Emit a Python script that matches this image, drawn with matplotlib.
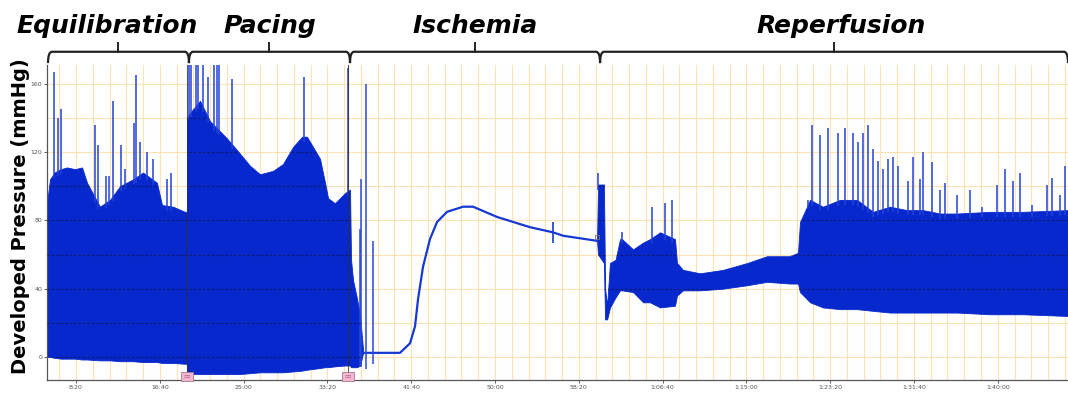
import numpy as np
import matplotlib
matplotlib.use("Agg")
import matplotlib.pyplot as plt
import matplotlib.transforms as mtransforms
from matplotlib.path import Path
from matplotlib.patches import PathPatch
from matplotlib.ticker import MultipleLocator, FuncFormatter

# time in seconds, pressure in mmHg
equil_t = [327, 345, 371, 410, 446, 494, 536, 566, 643, 703, 763, 840, 900, 983, 1013, 1079, 1150, 1162]
equil_hi = [90, 104, 108, 110, 111, 110, 111, 102, 88, 92, 100, 104, 108, 102, 89, 88, 85, 85]
equil_lo = [0, 0, -0.5, -1, -1, -1, -1.5, -1.5, -2, -2, -2.5, -2.5, -3, -3, -3.5, -3.5, -4, -4]

pace_t = [1162, 1180, 1198, 1240, 1300, 1401, 1479, 1538, 1598, 1676, 1735, 1795, 1849, 1878,
          1914, 1956, 1986, 2004, 2045, 2105, 2135, 2141, 2153, 2177, 2195, 2213]
pace_hi = [140, 143, 145, 150, 138, 128, 119, 112, 107, 109, 113, 123, 129, 129,
           123, 116, 102, 93, 90, 96, 98, 57, 45, 34, 24, 4]
pace_lo = [-9, -9.5, -10, -10, -10, -10, -10, -9.5, -9, -9, -9, -8.5, -8, -7.5,
           -7, -6.5, -6, -6, -5.5, -5, -5, -6, -6, -6, -5, 2.4]

isch_t = [2213, 2433, 2493, 2523, 2541, 2571, 2612, 2654, 2714, 2809, 2869, 3012, 3209, 3346, 3406, 3609]
isch_p = [2.4, 2.4, 8, 18, 34, 53, 69, 79, 85, 88, 88, 82, 76, 73, 71, 68]

rep_t = [3609, 3615, 3650, 3657, 3669, 3686, 3720, 3746, 3758, 3824, 3884, 3925, 3985, 4074, 4086,
         4122, 4223, 4361, 4504, 4623, 4760, 4808, 4820, 4880, 4957, 5059, 5160, 5256, 5357, 5459,
         5554, 5656, 5757, 5954, 6151, 6419]
rep_hi = [68, 101, 101, 40, 30, 55, 57, 69, 69, 63, 67, 69, 73, 69, 55,
          51, 49, 51, 55, 59, 59, 61, 79, 92, 88, 92, 92, 85, 88, 86,
          86, 84, 84, 85, 85, 86]
rep_lo = [68, 60, 55, 22, 22, 29, 35, 39, 39, 38, 32, 32, 29, 30, 36,
          39, 39, 40, 42, 44, 43, 43, 38, 32, 29, 28, 28, 27, 26, 26,
          26, 26, 26, 25, 25, 24]

# spikes rising above the envelope (175 = off scale)
spike_t = [371, 394, 410, 613, 633, 679, 699, 719, 767, 792, 846, 856, 882, 922, 961, 1041, 1065,
           1176, 1186, 1216, 1226, 1258, 1286, 1324, 1340, 1353, 1429, 1861, 2123,
           3616, 3756, 3935, 4015, 4054, 4868, 4890, 4940, 4989, 5049, 5089, 5138, 5168, 5198,
           5228, 5258, 5287, 5317, 5347, 5377, 5407, 5466, 5496, 5536, 5556, 5606, 5656, 5686,
           5755, 5835, 5904, 5994, 6044, 6093, 6133, 6203, 6293, 6322, 6372, 6401]
spike_top = [167, 140, 145, 136, 124, 106, 106, 150, 124, 110, 137, 165, 126, 120, 116, 104, 108,
             175, 175, 175, 175, 175, 164, 175, 175, 175, 163, 164, 169,
             108, 73, 88, 90, 92, 92, 136, 130, 134, 131, 134, 131, 126, 131,
             136, 122, 115, 110, 116, 117, 112, 103, 117, 104, 120, 114, 98, 102,
             95, 98, 88, 101, 110, 103, 108, 89, 101, 105, 95, 112]

isch_spike_t = [2195, 2201, 2230, 2272]
isch_spike_top = [75, 104, 160, 68]
isch_spike_lo = [-6, -6, -7, -4]

blip_t = [3346]
blip_lo = [67]
blip_hi = [79]

event_t = [1162, 2123]

phases = ["Equilibration", "Pacing", "Ischemia", "Reperfusion"]
phase_edges = [333, 1174, 2135, 3627, 6419]
label_t = [685, 1654, 2881, 5063]

y_ticks = [0, 40, 80, 120, 160]

BLUE = "#0628cc"

fig = plt.figure(figsize=(10.68, 3.93), dpi=100)
ax = fig.add_axes([47 / 1068, 13 / 393, 1021 / 1068, 315 / 393])
ax.set_xlim(327, 6419)
ax.set_ylim(-13.5, 171)

# grid
ax.set_axisbelow(True)
ax.xaxis.set_major_locator(MultipleLocator(500))
ax.xaxis.set_minor_locator(MultipleLocator(100))
ax.yaxis.set_major_locator(MultipleLocator(40))
ax.yaxis.set_minor_locator(MultipleLocator(20))
ax.grid(which="both", color="#fee3b0", lw=0.8)
ax.set_yticks(y_ticks)

fills = []
for t, hi, lo in [(equil_t, equil_hi, equil_lo), (pace_t, pace_hi, pace_lo), (rep_t, rep_hi, rep_lo)]:
    fills.append(ax.fill_between(t, lo, hi, color=BLUE, lw=0.6, zorder=2))

ax.plot(isch_t, isch_p, color="#1638d4", lw=1.6, zorder=2)

all_t = equil_t + pace_t + isch_t + rep_t
all_hi = equil_hi + pace_hi + isch_p + rep_hi
base = np.interp(spike_t, all_t, all_hi)
ax.vlines(spike_t, base - 3, spike_top, color="#2442d8", lw=1.1, zorder=2.5)
ax.vlines(isch_spike_t, isch_spike_lo, isch_spike_top, color="#2a48da", lw=1.1, zorder=2.5)
ax.vlines(blip_t, blip_lo, blip_hi, color="#1638d4", lw=1.2, zorder=2.5)

# dark dotted lines showing through the trace
paths = [p for f in fills for p in f.get_paths()]
clip = Path.make_compound_path(*paths)
hl = ax.hlines(np.arange(0, 180, 20), 327, 6419, color="#15153a", lw=0.8,
               linestyles=(0, (2, 2)), alpha=0.75, zorder=3)
hl.set_clip_path(clip, ax.transData)

# event markers
blend = mtransforms.blended_transform_factory(ax.transData, ax.transAxes)
for t in event_t:
    ax.axvline(t, color="#303030", lw=0.8, alpha=0.8, zorder=3)
    ax.text(t, 0.003, "▫▫", transform=blend, ha="center", va="bottom", fontsize=4,
            color="#b06080", zorder=4,
            bbox=dict(boxstyle="square,pad=0.35", fc="#f5b8d2", ec="#a87a90", lw=0.6))
ax.plot([isch_t[-1]], [isch_p[-1] + 2], marker="s", ms=3, mfc="none", mec="#777", mew=0.6, zorder=4)

# phase brackets
yl, yb, yt = 1.042, 1.006, 1.071
dx = 24
for name, x0, x1, xt in zip(phases, phase_edges[:-1], phase_edges[1:], label_t):
    verts = [(x0, yb), (x0, yl), (x0 + dx, yl), (x1 - dx, yl), (x1, yl), (x1, yb)]
    codes = [Path.MOVETO, Path.CURVE3, Path.CURVE3, Path.LINETO, Path.CURVE3, Path.CURVE3]
    ax.add_patch(PathPatch(Path(verts, codes), transform=blend, fill=False,
                           ec="#222222", lw=1.6, clip_on=False))
    xc = (x0 + x1) / 2
    ax.plot([xc, xc], [yl, yt], transform=blend, color="#222222", lw=1.4, clip_on=False)
    ax.text(xt, 1.102, name, transform=blend, ha="center", va="baseline",
            fontsize=18, fontweight="bold", fontstyle="italic", family="DejaVu Sans")


def hms(v, pos):
    v = int(round(v))
    h, r = divmod(v, 3600)
    m, s = divmod(r, 60)
    if h:
        return f"{h}:{m:02d}:{s:02d}"
    return f"{m}:{s:02d}"


ax.xaxis.set_major_formatter(FuncFormatter(hms))
ax.tick_params(which="major", labelsize=4.5, labelcolor="#555555", length=2, width=0.6,
               pad=1.5, color="#444444")
ax.tick_params(which="minor", length=0)
for side in ["top", "right"]:
    ax.spines[side].set_visible(False)
for side in ["left", "bottom"]:
    ax.spines[side].set_color("#555555")
    ax.spines[side].set_linewidth(0.9)

fig.text(0.019, 0.45, "Developed Pressure (mmHg)", rotation=90, ha="center", va="center",
         fontsize=14, fontweight="bold")

fig.savefig("out.png", dpi=100)
